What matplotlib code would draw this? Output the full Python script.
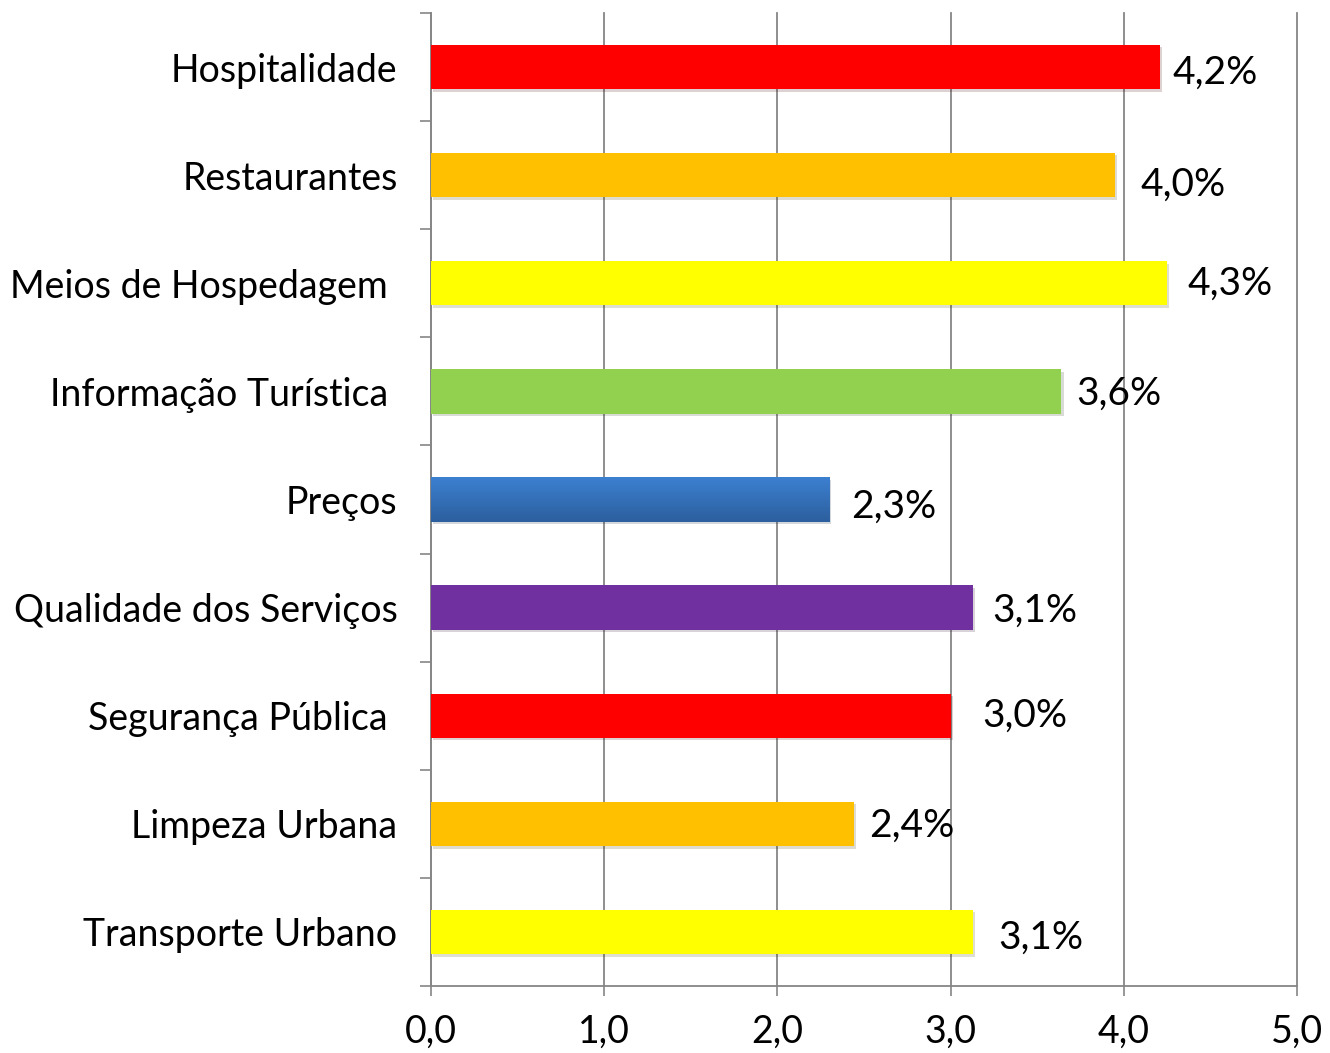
import numpy as np
import matplotlib
matplotlib.use('Agg')
import matplotlib.pyplot as plt
import matplotlib.patheffects as pe
from matplotlib.colors import LinearSegmentedColormap

# data
categorias = ['Hospitalidade', 'Restaurantes', 'Meios de Hospedagem ', 'Informação Turística ',
              'Preços', 'Qualidade dos Serviços', 'Segurança Pública ', 'Limpeza Urbana',
              'Transporte Urbano']
valores = [4.21, 3.95, 4.25, 3.64, 2.30, 3.13, 3.00, 2.44, 3.13]
rotulos = ['4,2%', '4,0%', '4,3%', '3,6%', '2,3%', '3,1%', '3,0%', '2,4%', '3,1%']
cores = ['#FF0000', '#FFC000', '#FFFF00', '#92D050', '#3A7CCB', '#7030A0',
         '#FF0000', '#FFC000', '#FFFF00']
xticks = [0, 1, 2, 3, 4, 5]
xtick_labels = ['0,0', '1,0', '2,0', '3,0', '4,0', '5,0']

# small nudges of the value labels (points), as placed in the original
nudge_x = [9, 18, 15, 11, 16, 14, 23, 11, 18]
nudge_y = [-4, -7, 0, -2, -5, -2, 0, -1, -4]

plt.rcParams['font.family'] = ['Lato', 'DejaVu Sans']

fig = plt.figure(figsize=(13.3, 10.53), dpi=100)
ax = fig.add_axes([0.324, 0.0636, 0.6512, 0.9241])

y = np.arange(len(categorias))
bars = ax.barh(y, valores, height=0.41, color=cores, zorder=3)
for b in bars:
    b.set_path_effects([pe.SimplePatchShadow(offset=(1.5, -1.8), alpha=0.18), pe.Normal()])

# gradient on the "Preços" bar
pb = bars[4]
grad = LinearSegmentedColormap.from_list('azul', ['#2C5F9E', '#3C80D0'])
x0, y0 = pb.get_x(), pb.get_y()
w, h = pb.get_width(), pb.get_height()
im = ax.imshow(np.linspace(0, 1, 100).reshape(-1, 1), cmap=grad, aspect='auto',
               extent=[x0, x0 + w, y0 + h, y0], origin='lower', zorder=3.5)
im.set_clip_path(pb)

for i, (v, r) in enumerate(zip(valores, rotulos)):
    ax.annotate(r, xy=(v, i), xytext=(nudge_x[i], nudge_y[i]), textcoords='offset points',
                ha='left', va='center', fontsize=28, color='black', zorder=5)

ax.set_xlim(0, 5)
ax.set_ylim(len(categorias) - 0.5, -0.5)
ax.set_xticks(xticks)
ax.set_xticklabels(xtick_labels, fontsize=27)
ax.set_yticks(y)
ax.set_yticklabels(categorias, fontsize=27)
ax.set_yticks(np.arange(-0.5, len(categorias)), minor=True)

ax.tick_params(axis='y', which='major', length=0, pad=24)
ax.tick_params(axis='y', which='minor', length=8, width=1.2, color='#868686')
ax.tick_params(axis='x', length=7, width=1.2, color='#868686', pad=13)

ax.grid(axis='x', color='#868686', linewidth=1.3, zorder=0)
ax.set_axisbelow(True)
for s in ['top', 'right']:
    ax.spines[s].set_visible(False)
for s in ['left', 'bottom']:
    ax.spines[s].set_color('#868686')
    ax.spines[s].set_linewidth(1.3)
# gridline at 5 sits on the edge, make sure it is not clipped
for gl in ax.get_xgridlines():
    gl.set_clip_on(False)

fig.savefig('out.png', dpi=100)
